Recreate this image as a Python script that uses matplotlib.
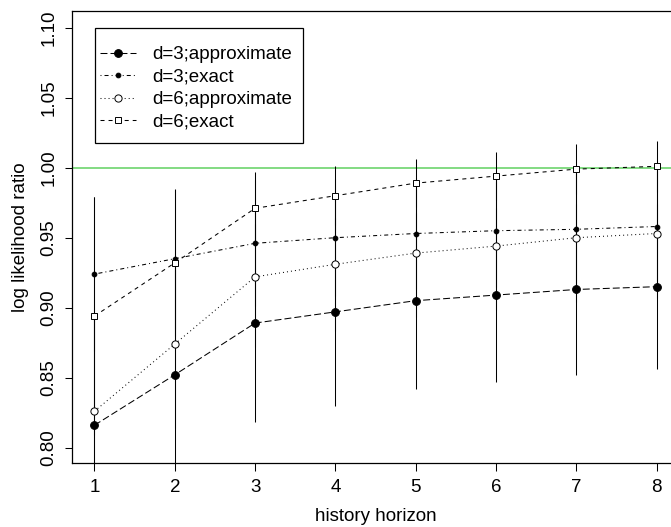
import matplotlib
matplotlib.use("Agg")
import matplotlib.pyplot as plt
from matplotlib.patches import Rectangle
import numpy as np

# history horizon
horizon = [1, 2, 3, 4, 5, 6, 7, 8]

# mean log likelihood ratio per series
d3_approx = [0.816, 0.852, 0.889, 0.897, 0.905, 0.909, 0.913, 0.915]
d3_exact = [0.924, 0.935, 0.946, 0.950, 0.953, 0.955, 0.956, 0.958]
d6_approx = [0.826, 0.874, 0.922, 0.931, 0.939, 0.944, 0.950, 0.953]
d6_exact = [0.894, 0.932, 0.971, 0.980, 0.989, 0.994, 0.999, 1.001]

# spread (half length of the vertical bars)
d3_approx_sd = [0.080, 0.075, 0.071, 0.067, 0.063, 0.062, 0.061, 0.059]
d3_exact_sd = [0.055, 0.050, 0.045, 0.042, 0.040, 0.040, 0.040, 0.040]
d6_approx_sd = [0.070, 0.060, 0.050, 0.048, 0.046, 0.046, 0.046, 0.046]
d6_exact_sd = [0.085, 0.052, 0.026, 0.021, 0.017, 0.017, 0.018, 0.018]

labels = ["d=3;approximate", "d=3;exact", "d=6;approximate", "d=6;exact"]
y_ticks = [0.80, 0.85, 0.90, 0.95, 1.00, 1.05, 1.10]
reference = 1.0

plt.rcParams["font.family"] = ["Liberation Sans", "DejaVu Sans"]
plt.rcParams["font.size"] = 13.5
plt.rcParams["lines.scale_dashes"] = False

fig = plt.figure(figsize=(6.71, 5.27), dpi=100)
ax = fig.add_axes([72 / 671, 64 / 527, 607 / 671, 452 / 527])

series = [
    (d3_approx, d3_approx_sd, dict(marker="o", ms=5.6, mfc="black", dashes=(5.0, 2.2))),
    (d3_exact, d3_exact_sd, dict(marker="o", ms=3.4, mfc="black", dashes=(0.7, 2.2, 2.9, 2.2))),
    (d6_approx, d6_approx_sd, dict(marker="o", ms=5.2, mfc="white", dashes=(0.7, 2.2))),
    (d6_exact, d6_exact_sd, dict(marker="s", ms=4.6, mfc="white", dashes=(2.9, 2.9))),
]

for (vals, sd, style), lab in zip(series, labels):
    vals = np.array(vals)
    sd = np.array(sd)
    ax.vlines(horizon, vals - sd, vals + sd, color="black", lw=0.75, zorder=2)
    ax.plot(horizon, vals, color="black", lw=0.75, mec="black", mew=0.7,
            label=lab, zorder=3, **style)

ax.axhline(reference, color="#78d878", lw=1.3, zorder=1)

ax.set_xlim(0.72, 8.28)
ax.set_ylim(0.789, 1.112)
ax.set_xticks(horizon)
ax.set_yticks(y_ticks)
ax.set_yticklabels([f"{v:.2f}" for v in y_ticks], rotation=90, va="center")
ax.tick_params(direction="out", length=5.4, width=0.75, pad=5)
ax.tick_params(axis="x", pad=6)
for sp in ax.spines.values():
    sp.set_linewidth(0.9)

ax.set_xlabel("history horizon", labelpad=9)
ax.set_ylabel("log likelihood ratio", labelpad=8)

leg = ax.legend(loc="upper left", bbox_to_anchor=(0.046, 0.922), frameon=False,
                borderpad=0, borderaxespad=0, handlelength=1.9,
                handletextpad=0.9, labelspacing=0.28)
ax.add_patch(Rectangle((0.0379, 0.708), 0.3427, 0.254, transform=ax.transAxes,
                       fill=False, ec="black", lw=0.9, zorder=4))

fig.savefig("out.png", dpi=100)
